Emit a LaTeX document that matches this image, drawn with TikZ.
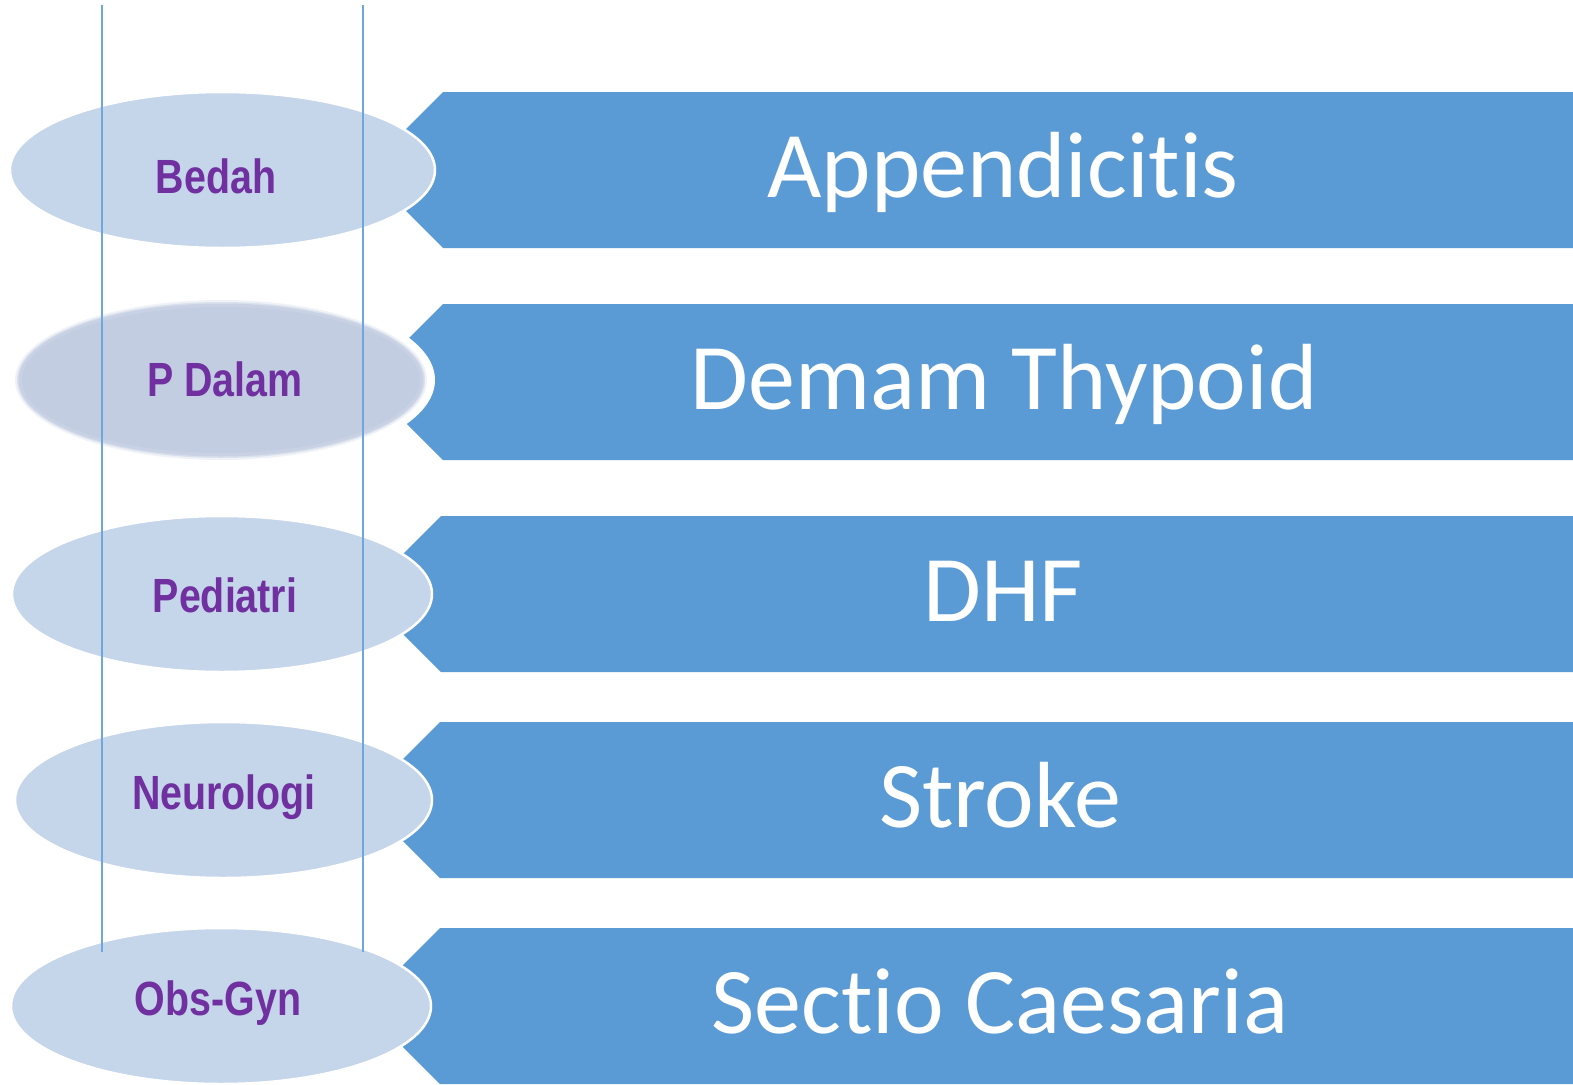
\documentclass[tikz,border=0pt]{standalone}
\usepackage{fontspec}
\setmainfont[RawFeature={-liga;-clig}]{Carlito}
\newfontfamily\tagfont[FakeStretch=0.82]{Liberation Sans}
\usetikzlibrary{shapes.geometric}
\definecolor{bannerblue}{HTML}{5B9BD5}
\definecolor{ovalfill}{HTML}{C5D5EA}
\definecolor{ovalgrey}{HTML}{C2CDE1}
\definecolor{tagpurple}{HTML}{7030A0}
\definecolor{railblue}{HTML}{6FA6DC}
\begin{document}
\begin{tikzpicture}[x=1pt,y=-1pt,
  banner/.style={fill=bannerblue},
  bannertext/.style={text=white,anchor=base,inner sep=0pt,
    font=\fontsize{94}{100}\selectfont},
  oval/.style={ellipse,fill=ovalfill,draw=white,line width=2.5pt,inner sep=0pt},
  tagtext/.style={text=tagpurple,inner sep=0pt,
    font=\tagfont\bfseries\fontsize{48}{52}\selectfont},
  rail/.style={draw=railblue,line width=1.3pt}]
\useasboundingbox (0,0) rectangle (1573,1084);
\fill[white] (0,0) rectangle (1573,1084);

% notched banners, the tip of each chevron tucked behind its oval
\foreach \L/\t in {443/92,443/304,441/516,440/722,440/928}{
  \fill[banner] (\L,\t) -- ({\L-78},{\t+78}) -- (\L,{\t+156})
     -- (1573,{\t+156}) -- (1573,\t) -- cycle;
}

% department ovals
\node[oval,minimum width=425pt,minimum height=156pt] (o1) at (222.5,170) {};
% soft-edged oval with a white halo
\fill[white] (222,380) ellipse [x radius=213, y radius=88];
\foreach \k/\op in {5/0.25,3/0.45,1.5/0.7}{
  \fill[ovalgrey,opacity=\op] (221,380) ellipse [x radius={201+\k}, y radius={75+\k}];
}
\node[ellipse,fill=ovalgrey,inner sep=0pt,minimum width=398pt,minimum height=146pt] (o2) at (221,380) {};
\node[oval,minimum width=420pt,minimum height=156pt] (o3) at (222,594) {};
\node[oval,minimum width=417pt,minimum height=156pt] (o4) at (223.5,800) {};
\node[oval,minimum width=420pt,minimum height=156pt] (o5) at (221,1006) {};

% guide rails over the ovals
\coordinate (r1t) at (102,5);   \coordinate (r1b) at (102,952);
\coordinate (r2t) at (363,5);   \coordinate (r2b) at (363,952);
\draw[rail] (r1t) -- (r1b);
\draw[rail] (r2t) -- (r2b);

% department labels
\node[tagtext] (t1) at (216,176) {Bedah};
\node[tagtext] (t2) at (225,379) {P Dalam};
\node[tagtext] (t3) at (225,595) {Pediatri};
\node[tagtext] (t4) at (224,797) {Neurologi};
\node[tagtext] (t5) at (218,1003) {Obs-Gyn};

% diagnoses
\node[bannertext] (d1) at (1003,197) {Appendicitis};
\node[bannertext] (d2) at (1004,409) {Demam Thypoid};
\node[bannertext] (d3) at (1003,621) {DHF};
\node[bannertext] (d4) at (1000,827) {Stroke};
\node[bannertext] (d5) at (1000,1033) {Sectio Caesaria};
\end{tikzpicture}
\end{document}
